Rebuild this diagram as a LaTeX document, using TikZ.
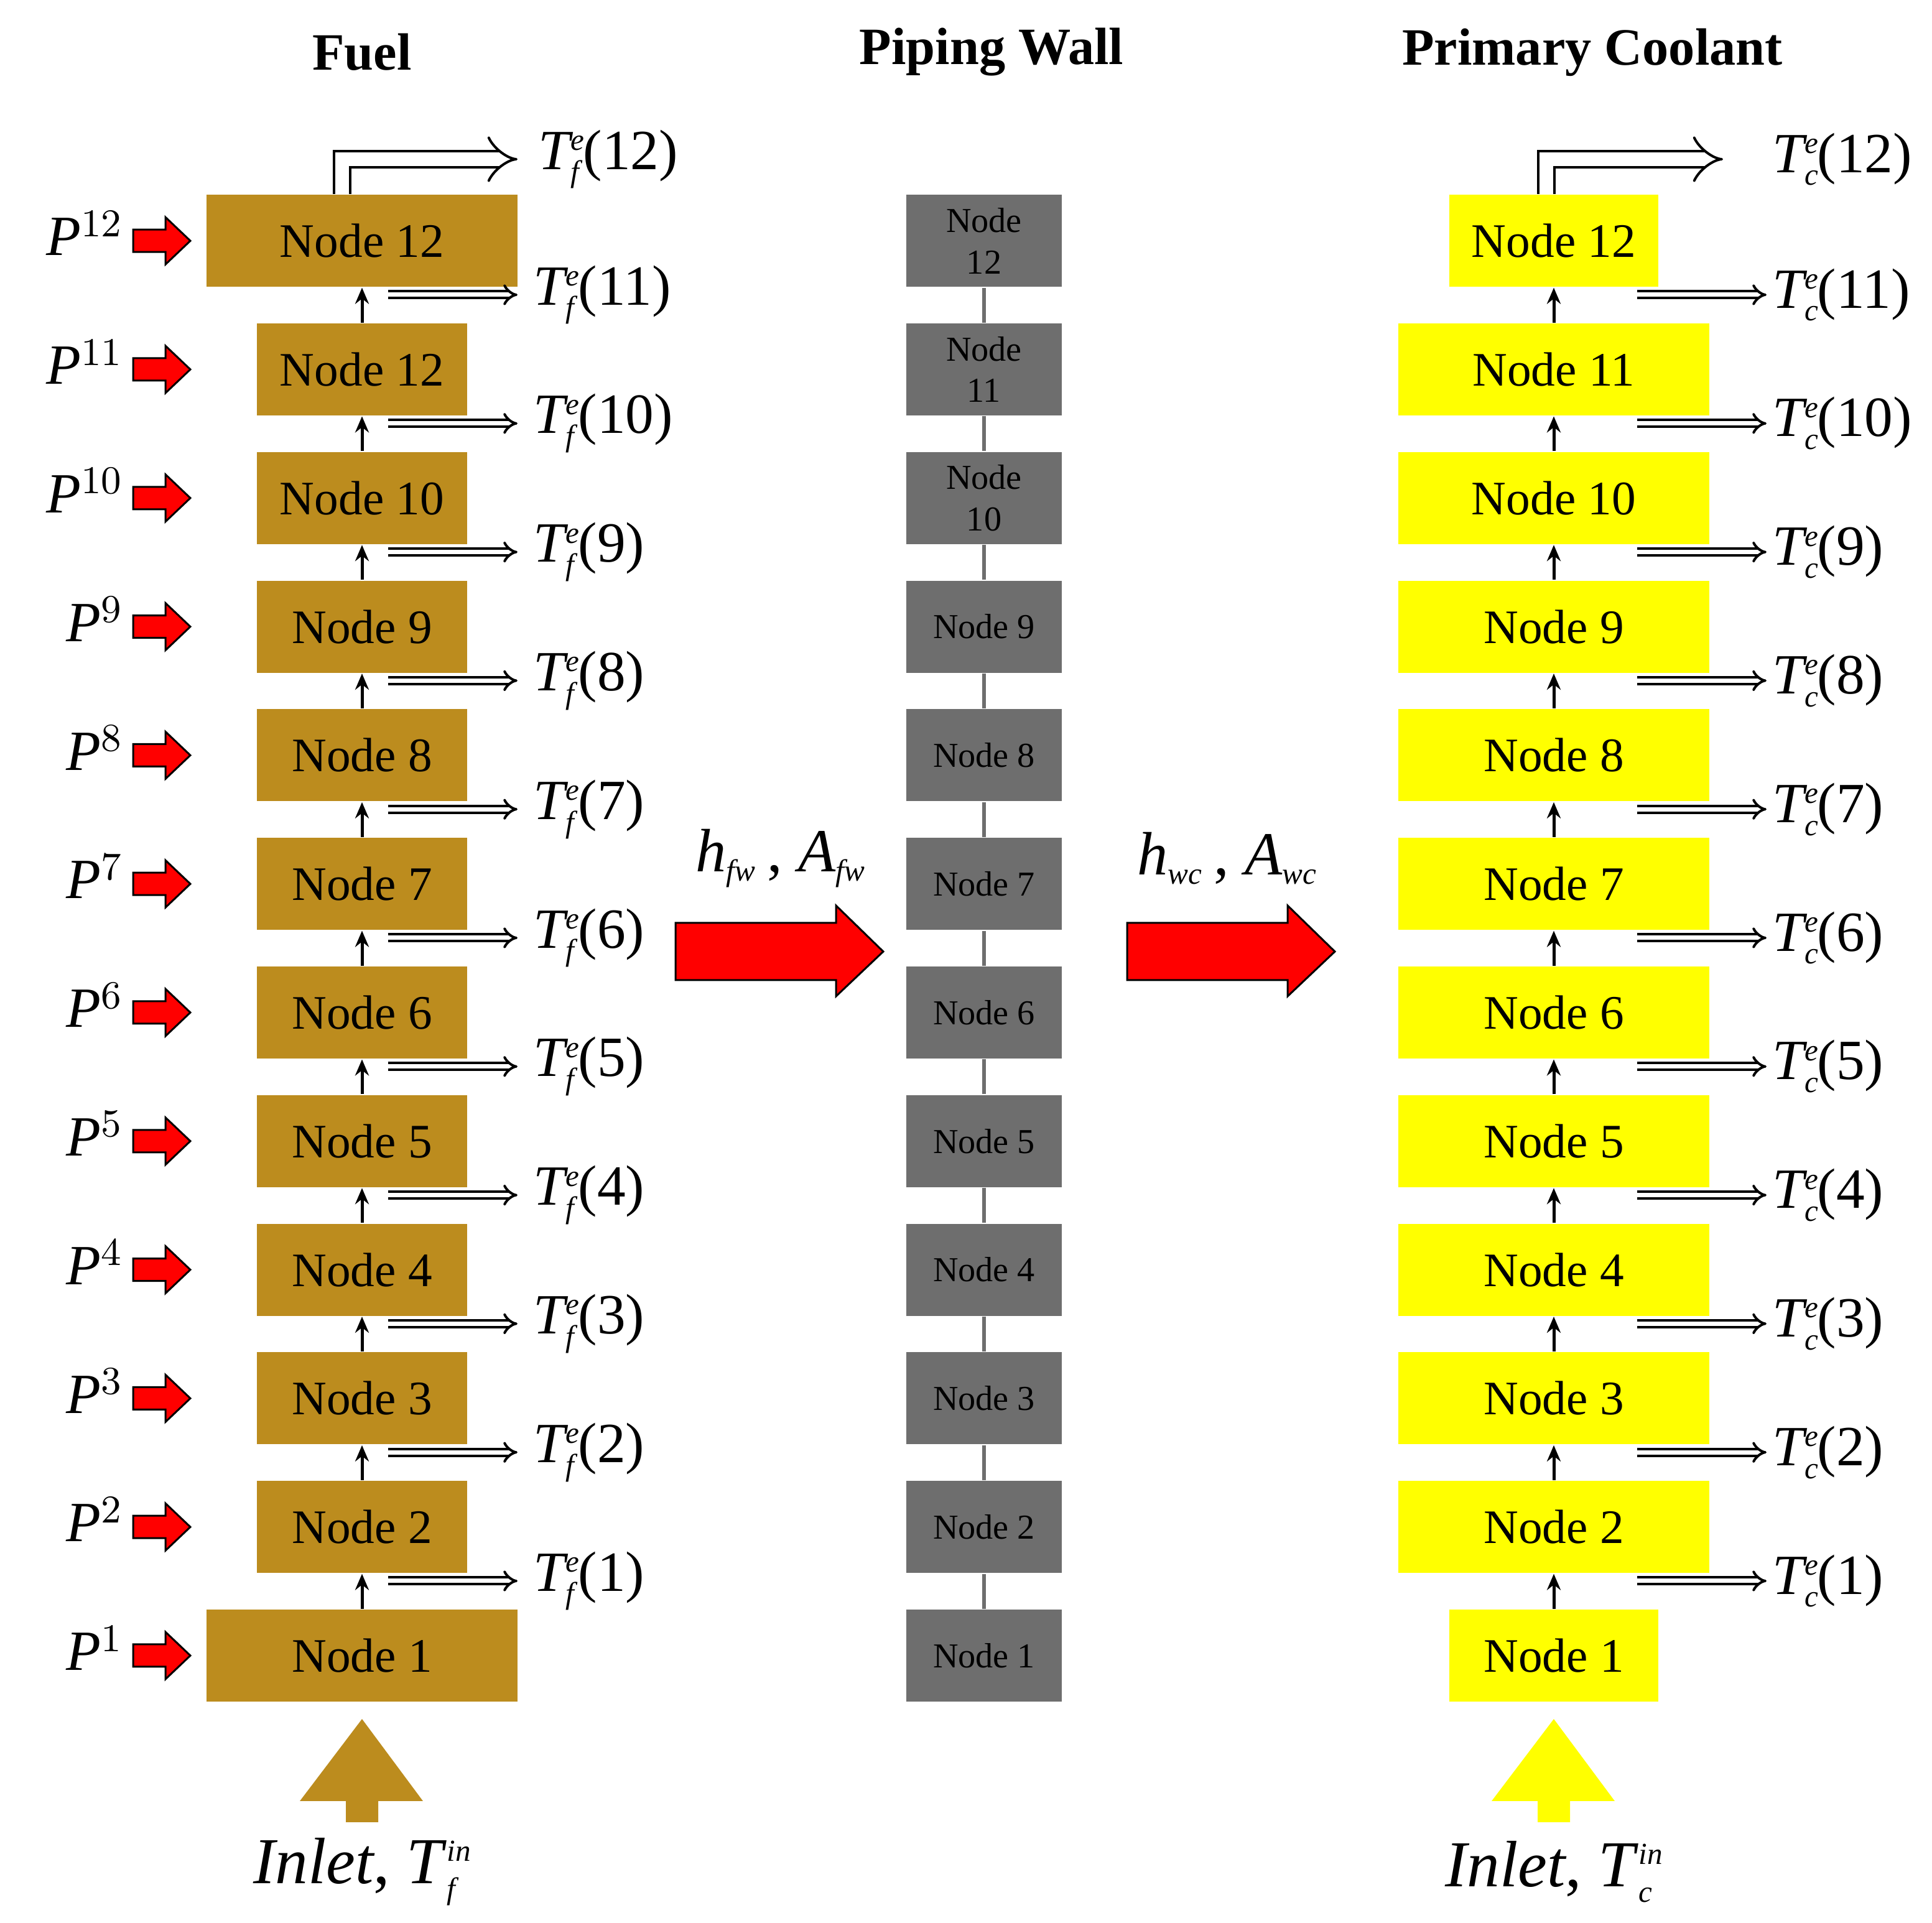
\documentclass[tikz,border=0pt]{standalone}
\usepackage{fontspec}
\setmainfont{Liberation Serif}
\usetikzlibrary{arrows.meta}
\definecolor{fuel}{HTML}{BC8C1E}
\definecolor{wall}{HTML}{6E6E6E}
\definecolor{cool}{HTML}{FFFF00}
\definecolor{hot}{HTML}{FF0000}
\newcommand{\Tlab}[2]{\textit{T}\kern-0.05em$^{\textit{\scriptsize e}}_{\textit{\scriptsize #1}}$\kern-0.05em(#2)}
\begin{document}
\begin{tikzpicture}[x=0.1mm,y=-0.1mm,
 box/.style={draw=none,inner sep=0,font=\fontsize{11}{12}\selectfont},
 wbox/.style={fill=wall,draw=none,minimum width=12.5mm,minimum height=7.4mm,inner sep=0,align=center,font=\fontsize{8}{9.5}\selectfont},
 flow/.style={-{Stealth[length=1.3mm,width=1.1mm]},line width=0.25mm},
 dbl/.style={double,double distance=0.35mm,line width=0.2mm,-{Implies}},
 elb/.style={double,double distance=1.1mm,line width=0.2mm,-{Implies}},
 tl/.style={anchor=west,font=\fontsize{13}{15}\selectfont,inner sep=0},
 big/.style={font=\fontsize{14}{16}\selectfont},
 ttl/.style={font=\bfseries\fontsize{12}{14}\selectfont}]
\useasboundingbox (0,0) rectangle (1553,1546);
\node[ttl] (t1) at (291,42) {Fuel};
\node[ttl] (t2) at (797,42) {Piping Wall};
\node[ttl] (t3) at (1280,42) {Primary Coolant};
\foreach \i/\lab/\wl in {1/Node 1/Node 1,2/Node 2/Node 2,3/Node 3/Node 3,4/Node 4/Node 4,5/Node 5/Node 5,6/Node 6/Node 6,7/Node 7/Node 7,8/Node 8/Node 8,9/Node 9/Node 9,10/Node 10/Node\\10,11/Node 12/Node\\11,12/Node 12/Node\\12}{
 \pgfmathsetmacro{\yc}{1331-(\i-1)*103.4}
 \pgfmathsetmacro{\fw}{(\i==1 || \i==12) ? 250 : 169}
 \pgfmathsetmacro{\cw}{(\i==1 || \i==12) ? 168 : 250}
 \node[box,fill=fuel,minimum width=\fw*0.1 mm,minimum height=7.4mm] (f\i) at (291,\yc) {\lab};
 \node[wbox] (w\i) at (791,\yc) {\wl};
 \node[box,fill=cool,minimum width=\cw*0.1 mm,minimum height=7.4mm] (c\i) at (1249,\yc) {};
 \node[tl,anchor=east] (p\i) at (100,\yc-6) {\textit{P}$^{\scriptsize\i}$};
 \fill[hot,draw=black,line width=0.15mm] (107,\yc-9) -- (133,\yc-9) -- (133,\yc-19) -- (153,\yc) -- (133,\yc+19) -- (133,\yc+9) -- (107,\yc+9) -- cycle;
}
\foreach \i/\lab in {1/Node 1,2/Node 2,3/Node 3,4/Node 4,5/Node 5,6/Node 6,7/Node 7,8/Node 8,9/Node 9,10/Node 10,11/Node 11,12/Node 12}{
 \node[box] at (c\i) {\lab};}
\foreach \i [evaluate=\i as \j using int(\i+1)] in {1,...,11}{
 \pgfmathsetmacro{\ya}{1331-(\i-1)*103.4-60}
 \draw[flow] (f\i.north) -- (f\j.south);
 \draw[flow] (c\i.north) -- (c\j.south);
 \draw[wall,line width=0.3mm] (w\i.north) -- (w\j.south);
 \coordinate (fa\i) at (312,\ya); \coordinate (fb\i) at (416,\ya);
 \coordinate (ca\i) at (1316,\ya); \coordinate (cb\i) at (1420,\ya);
 \draw[dbl] (fa\i) -- (fb\i);
 \draw[dbl] (ca\i) -- (cb\i);
 \node[tl] (ft\i) at (428,\ya) {\Tlab{f}{\i}};
 \node[tl] (ct\i) at (1424,\ya) {\Tlab{c}{\i}};
}
\coordinate (fe2) at (416,128);
\draw[elb] ([xshift=-1.6mm]f12.north) |- (fe2);
\node[tl] (ft12) at (432,128) {\Tlab{f}{12}};
\coordinate (ce2) at (1385,128);
\draw[elb] ([xshift=-0.6mm]c12.north) |- (ce2);
\node[tl] (ct12) at (1424,128) {\Tlab{c}{12}};
\fill[fuel] (278,1465) -- (278,1448) -- (241,1448) -- (291,1382) -- (340,1448) -- (304,1448) -- (304,1465) -- cycle;
\fill[cool] (1236,1465) -- (1236,1448) -- (1199,1448) -- (1249,1382) -- (1298,1448) -- (1262,1448) -- (1262,1465) -- cycle;
\node[font=\fontsize{15}{17}\selectfont] (in1) at (292,1505) {\textit{Inlet}, \textit{T}$^{\textit{\scriptsize in}}_{\textit{\scriptsize f}}$};
\node[font=\fontsize{15}{17}\selectfont] (in2) at (1250,1505) {\textit{Inlet}, \textit{T}$^{\textit{\scriptsize in}}_{\textit{\scriptsize c}}$};
\fill[hot,draw=black,line width=0.15mm] (543,742) -- (672,742) -- (672,728) -- (710,765) -- (672,801) -- (672,788) -- (543,788) -- cycle;
\fill[hot,draw=black,line width=0.15mm] (906,742) -- (1035,742) -- (1035,728) -- (1073,765) -- (1035,801) -- (1035,788) -- (906,788) -- cycle;
\node[big] (h1) at (628,690) {\textit{h}$_{\textit{\scriptsize fw}}$\,, \textit{A}$_{\textit{\scriptsize fw}}$};
\node[big] (h2) at (987,690) {\textit{h}$_{\textit{\scriptsize wc}}$\,, \textit{A}$_{\textit{\scriptsize wc}}$};
\end{tikzpicture}
\end{document}
